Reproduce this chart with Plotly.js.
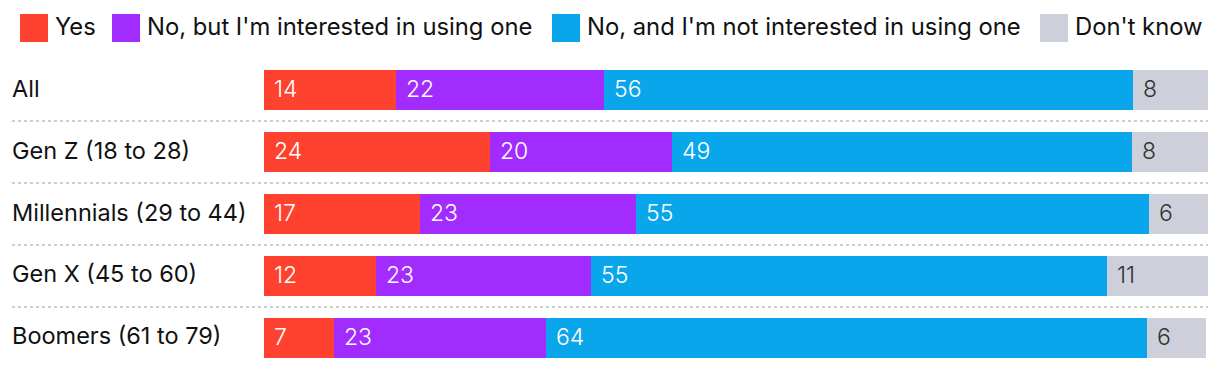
<!DOCTYPE html>
<html>
<head>
<meta charset="utf-8">
<script src="https://cdn.plot.ly/plotly-3.0.1.min.js"></script>
<style>html,body{margin:0;padding:0;background:#fff;}#chart{width:1220px;height:368px;}</style>
</head>
<body>
<div id="chart"></div>
<script>
const categories = ["All", "Gen Z (18 to 28)", "Millennials (29 to 44)", "Gen X (45 to 60)", "Boomers (61 to 79)"];
const seriesNames = ["Yes", "No, but I'm interested in using one", "No, and I'm not interested in using one", "Don't know"];
const yesVals = [14.0, 23.9, 16.5, 11.9, 7.4];
const interestedVals = [22.0, 19.3, 22.9, 22.7, 22.5];
const notInterestedVals = [56.1, 48.7, 54.4, 54.7, 63.6];
const dontKnowVals = [7.9, 8.1, 6.2, 10.7, 6.3];
const yesLabels = [14, 24, 17, 12, 7];
const interestedLabels = [22, 20, 23, 23, 23];
const notInterestedLabels = [56, 49, 55, 55, 64];
const dontKnowLabels = [8, 8, 6, 11, 6];

const colors = ["#FF4230", "#A22BFE", "#0AA6EB", "#CDD0DA"];
const textColors = ["#ffffff", "#ffffff", "#ffffff", "#333333"];
const FONT = "Inter, 'Noto Sans', sans-serif";

const vals = [yesVals, interestedVals, notInterestedVals, dontKnowVals];
const labels = [yesLabels, interestedLabels, notInterestedLabels, dontKnowLabels];

const traces = vals.map((v, i) => ({
  type: "bar",
  orientation: "h",
  name: seriesNames[i],
  x: v,
  y: categories,
  marker: {color: colors[i], line: {width: 0}},
  hoverinfo: "x+name",
  showlegend: false
}));

const annotations = [];
const shapes = [];
categories.forEach((c, r) => {
  let base = 0;
  vals.forEach((v, i) => {
    annotations.push({
      x: base, y: c, xref: "x", yref: "y",
      text: String(labels[i][r]), showarrow: false,
      xanchor: "left", yanchor: "middle", xshift: 8, yshift: 1,
      font: {family: FONT, size: 23, color: textColors[i], weight: 300}
    });
    base += v[r];
  });
  annotations.push({
    x: -(264 - 10) / 944, y: c, xref: "paper", yref: "y",
    text: c, showarrow: false, xanchor: "left", yanchor: "middle", yshift: 2,
    font: {family: FONT, size: 23.5, color: "#111111"}
  });
  if (r > 0) {
    shapes.push({
      type: "line", xref: "paper", yref: "y",
      x0: -(264 - 12) / 944, x1: 1, y0: r - 0.5, y1: r - 0.5,
      line: {color: "#cfcfcf", width: 2, dash: "dot"}
    });
  }
});

// custom legend (plot area spans 59px..368px vertically, 264px..1208px horizontally)
const legendSquareX = [20, 112, 552, 1040];
seriesNames.forEach((n, i) => {
  shapes.push({
    type: "rect", xref: "paper", yref: "paper",
    x0: (legendSquareX[i] - 264) / 944, x1: (legendSquareX[i] + 28 - 264) / 944,
    y0: (368 - 42) / 309, y1: (368 - 14) / 309,
    line: {width: 0}, fillcolor: colors[i]
  });
  annotations.push({
    x: (legendSquareX[i] + 33 - 264) / 944, y: (368 - 28) / 309,
    xref: "paper", yref: "paper", text: n, showarrow: false,
    xanchor: "left", yanchor: "middle", yshift: 1,
    font: {family: FONT, size: 23.8, color: "#111111"}
  });
});

const layout = {
  width: 1220, height: 368,
  margin: {l: 264, r: 12, t: 59, b: 0, pad: 0},
  paper_bgcolor: "#ffffff", plot_bgcolor: "#ffffff",
  barmode: "stack", bargap: 0.355,
  xaxis: {range: [0, 100], showgrid: false, zeroline: false, showticklabels: false, fixedrange: true},
  yaxis: {type: "category", range: [4.484, -0.5], showgrid: false, zeroline: false, showticklabels: false, fixedrange: true},
  annotations: annotations,
  shapes: shapes,
  font: {family: FONT},
  showlegend: false
};

Plotly.newPlot("chart", traces, layout, {displayModeBar: false, staticPlot: true});
</script>
</body>
</html>
